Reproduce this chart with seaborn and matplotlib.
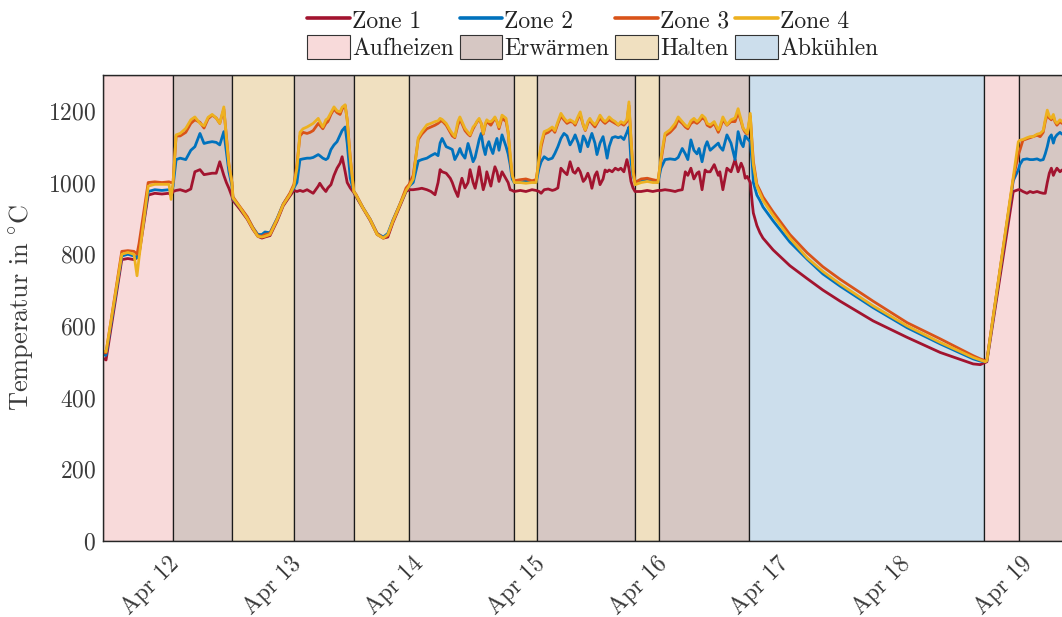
import numpy as np
import pandas as pd
import matplotlib
matplotlib.use("Agg")
import matplotlib.pyplot as plt
import matplotlib.dates as mdates
from matplotlib.lines import Line2D
from matplotlib.patches import Patch
import seaborn as sns

# ---------------- data (hours since 12 Apr 00:00, temperatures in °C) ----------------
hours = [
    -12.8, -12.2, -9.1, -7.9, -6.7, -6.1, -5.7, -3.9, -2.6, -1.2, 0.2, 0.6, 1.0,
    1.6, 2.4, 3.5, 4.5, 5.3, 6.3, 7.1, 7.9, 8.7, 9.5, 10.2, 11.0, 11.5, 12.0, 12.6,
    12.8, 14.2, 15.6, 16.7, 17.7, 18.5, 19.1, 20.1, 21.5, 22.7, 24.0, 24.8,
    25.4, 26.0, 26.6, 27.4, 28.0, 28.6, 29.6, 29.9, 30.5, 31.1, 31.5, 32.1, 32.7, 33.3, 33.9, 34.3, 34.9, 35.3, 35.9, 36.6,
    37.0, 38.4, 39.8, 41.2, 42.4, 43.3, 44.3, 45.7, 46.9, 47.5,
    48.3, 49.3, 50.0, 51.0, 51.8, 52.6, 53.2, 53.6, 54.0, 54.8, 55.6, 56.0, 56.5, 57.1, 57.5, 57.9, 58.5, 59.1, 59.5, 60.1,
    60.5, 60.9, 61.3, 61.7, 62.1, 62.5, 62.8, 63.2, 63.6, 64.0, 64.4, 64.8, 65.2, 65.8, 66.6, 67.0, 67.4, 67.8, 68.2,
    69.4, 70.5, 71.7, 72.5,
    73.1, 73.5, 74.1, 74.9, 75.7, 76.2, 76.8, 77.4, 78.0, 78.6, 79.2, 79.8, 80.2, 80.8, 81.2, 81.8, 82.2, 82.7, 83.1, 83.5,
    84.1, 84.5, 85.1, 85.7, 86.1, 86.5, 86.9, 87.5, 88.1, 88.7, 89.2, 89.8, 90.4, 90.8, 91.2, 91.6, 92.0,
    93.2, 94.4, 95.5, 96.5,
    97.1, 97.9, 98.9, 99.9, 100.5, 101.3, 101.9, 102.4, 103.0, 103.6, 104.2, 104.6, 105.2, 105.8, 106.2, 106.8, 107.6,
    108.4, 108.7, 109.3, 110.1, 110.9, 111.7, 112.3, 112.9, 113.3, 113.7, 114.1, 114.7,
    115.1, 115.3, 116.0, 116.6, 117.2, 119.2, 122.5, 125.9, 129.0, 132.4, 138.9, 145.6, 152.1, 158.6, 160.0, 161.0,
    161.3, 166.5, 167.5, 167.8, 168.4, 169.2, 169.8, 170.4, 171.2, 171.8, 172.4, 172.8, 173.2, 173.6, 174.0, 174.4,
    174.7, 175.1, 175.7, 176.1,
]

zone1 = [
    510, 505, 785, 788, 785, 790, 800, 965, 970, 968, 970, 965, 975,
    978, 980, 975, 982, 1030, 1036, 1022, 1024, 1026, 1026, 1058, 1020, 1000, 984, 961,
    950, 925, 898, 870, 850, 845, 848, 852, 893, 935, 962, 978,
    975, 978, 975, 980, 975, 970, 990, 998, 985, 975, 985, 994, 1020, 1040, 1054, 1072, 1030, 1000, 985, 972,
    962, 928, 895, 855, 845, 848, 888, 935, 975, 980,
    980, 982, 984, 980, 975, 966, 1000, 1036, 1030, 1026, 1012, 1000, 980, 961, 990, 1012, 985, 1000, 1036, 1000,
    984, 1010, 1044, 1010, 980, 1000, 1030, 1010, 990, 1020, 1044, 1030, 1003, 1030, 1010, 1000, 980, 978, 975,
    978, 975, 980, 978,
    975, 970, 980, 982, 978, 980, 985, 1040, 1030, 1022, 1058, 1030, 1026, 1040, 1030, 1003, 1010, 1026, 1010, 984,
    1020, 1030, 994, 1010, 1035, 1030, 1035, 1030, 1040, 1035, 1040, 1030, 1064, 1040, 1003, 985, 975,
    975, 978, 975, 978,
    978, 980, 978, 975, 978, 980, 1030, 1020, 1040, 1010, 1026, 1030, 980, 1035, 1030, 1030, 1050,
    1020, 1030, 980, 1040, 1030, 1064, 1030, 1054, 1040, 1012, 1017, 1000,
    940, 915, 880, 860, 845, 812, 768, 732, 700, 669, 614, 568, 526, 494, 492, 498,
    500, 975, 980, 980, 975, 970, 975, 972, 975, 972, 970, 970, 1000, 1026, 1040, 1020,
    1030, 1040, 1030, 1035,
]

zone2 = [
    520, 518, 795, 800, 795, 790, 810, 975, 980, 978, 980, 975, 990,
    1064, 1068, 1064, 1090, 1100, 1137, 1109, 1112, 1114, 1112, 1105, 1142, 1086, 1030, 990,
    955, 930, 903, 875, 855, 855, 862, 860, 900, 940, 968, 985,
    1000, 1064, 1066, 1068, 1068, 1070, 1078, 1075, 1068, 1064, 1068, 1092, 1105, 1114, 1133, 1145, 1155, 1110, 1012, 975,
    965, 930, 898, 858, 848, 858, 895, 940, 978, 990,
    1000, 1060, 1064, 1068, 1075, 1081, 1075, 1110, 1123, 1100, 1095, 1092, 1064, 1080, 1095, 1080, 1068, 1109, 1090, 1058,
    1070, 1095, 1120, 1137, 1100, 1078, 1100, 1114, 1095, 1081, 1105, 1123, 1090, 1133, 1100, 1080, 1050, 1010, 1000,
    1000, 1005, 1002, 1000,
    1040, 1058, 1072, 1064, 1068, 1081, 1100, 1123, 1137, 1130, 1105, 1120, 1133, 1110, 1086, 1130, 1120, 1100, 1120, 1137,
    1110, 1078, 1110, 1128, 1100, 1068, 1100, 1125, 1128, 1125, 1128, 1120, 1140, 1155, 1058, 1020, 1003,
    1005, 1010, 1005, 1000,
    1040, 1064, 1066, 1064, 1070, 1095, 1080, 1064, 1119, 1090, 1080, 1095, 1058, 1100, 1114, 1090, 1100,
    1110, 1100, 1090, 1133, 1110, 1064, 1142, 1110, 1100, 1130, 1123, 1114,
    1050, 1000, 965, 950, 932, 893, 834, 786, 745, 711, 651, 595, 550, 508, 502, 500,
    503, 1005, 1036, 1050, 1064, 1066, 1064, 1064, 1066, 1062, 1064, 1080, 1100, 1125, 1133, 1110,
    1125, 1133, 1140, 1135,
]

zone3 = [
    525, 525, 808, 810, 808, 800, 830, 1000, 1002, 1000, 1002, 1000, 1000,
    1130, 1130, 1140, 1165, 1175, 1168, 1152, 1178, 1188, 1180, 1165, 1205, 1130, 1050, 1000,
    960, 932, 905, 875, 852, 850, 855, 858, 898, 940, 970, 995,
    1050, 1130, 1140, 1137, 1140, 1145, 1165, 1160, 1150, 1165, 1170, 1190, 1205, 1195, 1190, 1205, 1215, 1175, 1070, 975,
    968, 930, 898, 858, 845, 852, 893, 940, 985, 995,
    1020, 1120, 1135, 1150, 1155, 1160, 1165, 1170, 1172, 1160, 1140, 1130, 1125, 1160, 1175, 1165, 1145, 1135, 1130, 1150,
    1160, 1170, 1175, 1165, 1135, 1160, 1170, 1165, 1160, 1170, 1180, 1170, 1150, 1180, 1170, 1140, 1070, 1020, 1005,
    1008, 1010, 1005, 1008,
    1060, 1100, 1135, 1140, 1150, 1140, 1165, 1185, 1175, 1165, 1170, 1168, 1160, 1180, 1190, 1160, 1145, 1165, 1175, 1165,
    1155, 1165, 1180, 1170, 1165, 1170, 1175, 1170, 1165, 1160, 1165, 1160, 1170, 1215, 1120, 1040, 1000,
    1010, 1012, 1008, 1005,
    1060, 1130, 1140, 1155, 1175, 1165, 1155, 1150, 1165, 1170, 1165, 1170, 1180, 1175, 1160, 1155, 1165,
    1140, 1150, 1175, 1160, 1170, 1170, 1195, 1170, 1150, 1140, 1135, 1185,
    1100, 1060, 995, 978, 960, 918, 855, 804, 765, 730, 669, 609, 564, 517, 508, 503,
    505, 1010, 1078, 1090, 1118, 1122, 1125, 1128, 1132, 1128, 1140, 1170, 1190, 1180, 1175, 1185,
    1170, 1160, 1170, 1165,
]

zone4 = [
    530, 528, 800, 805, 800, 740, 790, 990, 995, 995, 995, 953, 1000,
    1133, 1137, 1151, 1175, 1183, 1165, 1158, 1182, 1190, 1180, 1165, 1211, 1125, 1050, 1000,
    957, 930, 900, 872, 850, 848, 850, 855, 897, 938, 966, 990,
    1040, 1140, 1150, 1155, 1160, 1165, 1179, 1170, 1155, 1175, 1179, 1195, 1211, 1200, 1197, 1210, 1217, 1175, 1068, 975,
    966, 929, 897, 855, 845, 855, 892, 938, 978, 990,
    1010, 1125, 1142, 1161, 1165, 1170, 1172, 1179, 1176, 1165, 1145, 1137, 1128, 1170, 1183, 1170, 1151, 1140, 1133, 1155,
    1161, 1172, 1179, 1165, 1137, 1165, 1175, 1170, 1170, 1175, 1183, 1170, 1155, 1188, 1179, 1140, 1080, 1022, 1000,
    1000, 998, 1000, 1000,
    1070, 1110, 1142, 1147, 1155, 1145, 1170, 1193, 1180, 1170, 1175, 1170, 1165, 1185, 1197, 1160, 1147, 1170, 1179, 1170,
    1161, 1170, 1188, 1175, 1170, 1175, 1183, 1175, 1170, 1161, 1170, 1165, 1175, 1225, 1123, 1030, 994,
    1000, 1003, 1000, 1000,
    1068, 1137, 1147, 1165, 1183, 1170, 1160, 1155, 1172, 1179, 1170, 1175, 1188, 1180, 1165, 1161, 1170,
    1147, 1155, 1183, 1161, 1175, 1180, 1206, 1175, 1151, 1145, 1137, 1193,
    1090, 1050, 990, 970, 950, 908, 845, 790, 752, 717, 656, 600, 554, 512, 505, 500,
    503, 1015, 1114, 1118, 1120, 1125, 1128, 1128, 1135, 1137, 1145, 1175, 1202, 1185, 1179, 1190,
    1172, 1165, 1175, 1170,
]

zones = ["Zone 1", "Zone 2", "Zone 3", "Zone 4"]
zone_colors = ["#A2142F", "#0072BD", "#D95319", "#EDB120"]

phase_names = ["Aufheizen", "Erwärmen", "Halten", "Erwärmen", "Halten", "Erwärmen", "Halten",
               "Erwärmen", "Halten", "Erwärmen", "Abkühlen", "Aufheizen", "Erwärmen"]
phase_start_h = [-12.8, 1.0, 12.6, 24.8, 36.6, 47.5, 68.2, 72.7, 92.0, 96.7, 114.4, 160.8, 167.7]
phase_end_h = [1.0, 12.6, 24.8, 36.6, 47.5, 68.2, 72.7, 92.0, 96.7, 114.4, 160.8, 167.7, 180.0]
phase_labels = ["Aufheizen", "Erwärmen", "Halten", "Abkühlen"]
phase_colors = {"Aufheizen": "#F8DADA", "Erwärmen": "#D6C7C3",
                "Halten": "#F0E0C0", "Abkühlen": "#CCDEEC"}

# ---------------- style ----------------
sns.set_style("white")
plt.rcParams["font.family"] = ["cmr10", "Liberation Serif", "DejaVu Serif"]
plt.rcParams["mathtext.fontset"] = "cm"
plt.rcParams["axes.formatter.use_mathtext"] = True
plt.rcParams["axes.unicode_minus"] = False
FS = 17
TXT = "#3a3a3a"

base = pd.Timestamp("2021-04-12 00:00")
to_time = lambda h: base + pd.to_timedelta(np.asarray(h, dtype=float), unit="h")

t = to_time(hours)
df = pd.concat([
    pd.DataFrame({"time": t, "temp": vals, "zone": z})
    for z, vals in zip(zones, [zone1, zone2, zone3, zone4])
], ignore_index=True)

fig = plt.figure(figsize=(10.62, 6.17), dpi=100)
ax = fig.add_axes([103 / 1062, 76 / 617, 959 / 1062, 466 / 617])

for name, s, e in zip(phase_names, to_time(phase_start_h), to_time(phase_end_h)):
    ax.axvspan(s, e, facecolor=phase_colors[name], edgecolor="#1a1a1a", lw=0.9, zorder=0)

sns.lineplot(data=df, x="time", y="temp", hue="zone", hue_order=zones,
             palette=zone_colors, lw=2.0, legend=False, estimator=None,
             sort=False, ax=ax, zorder=3)

ax.set_xlim(to_time([-12.8])[0], to_time([176.1])[0])
ax.set_ylim(0, 1300)
ax.set_yticks([0, 200, 400, 600, 800, 1000, 1200])
ax.xaxis.set_major_locator(mdates.DayLocator())
ax.xaxis.set_major_formatter(mdates.DateFormatter("%b %d"))
ax.tick_params(axis="both", length=0, labelsize=FS, labelcolor=TXT)
ax.tick_params(axis="x", pad=8)
ax.tick_params(axis="y", pad=5)
for lab in ax.get_xticklabels():
    lab.set_rotation(45)
    lab.set_ha("right")
    lab.set_rotation_mode("anchor")

ax.set_xlabel("")
ax.set_ylabel(r"Temperatur in$\;^{\circ}$C", fontsize=19, color=TXT)
ax.yaxis.set_label_coords(-0.071, 0.5)

for side in ["left", "bottom", "top"]:
    ax.spines[side].set_color("#262626")
    ax.spines[side].set_linewidth(1.0)
    ax.spines[side].set_zorder(5)
ax.spines["right"].set_visible(False)
ax.grid(False)

# legend (column-major order: zone above phase)
handles, labels = [], []
for z, c, p in zip(zones, zone_colors, phase_labels):
    handles.append(Line2D([], [], color=c, lw=2.6))
    labels.append(z)
    handles.append(Patch(facecolor=phase_colors[p], edgecolor="#333333", lw=0.8))
    labels.append(p)
leg = fig.legend(handles, labels, ncol=4, loc="upper left",
                 bbox_to_anchor=(307 / 1062, 1 - 8 / 617), frameon=False,
                 fontsize=FS, handlelength=1.8, handleheight=1.15,
                 handletextpad=0.1, columnspacing=0.25, labelspacing=0.1,
                 borderpad=0, borderaxespad=0)
for tx in leg.get_texts():
    tx.set_color("#222222")

fig.savefig("out.png", dpi=100)
